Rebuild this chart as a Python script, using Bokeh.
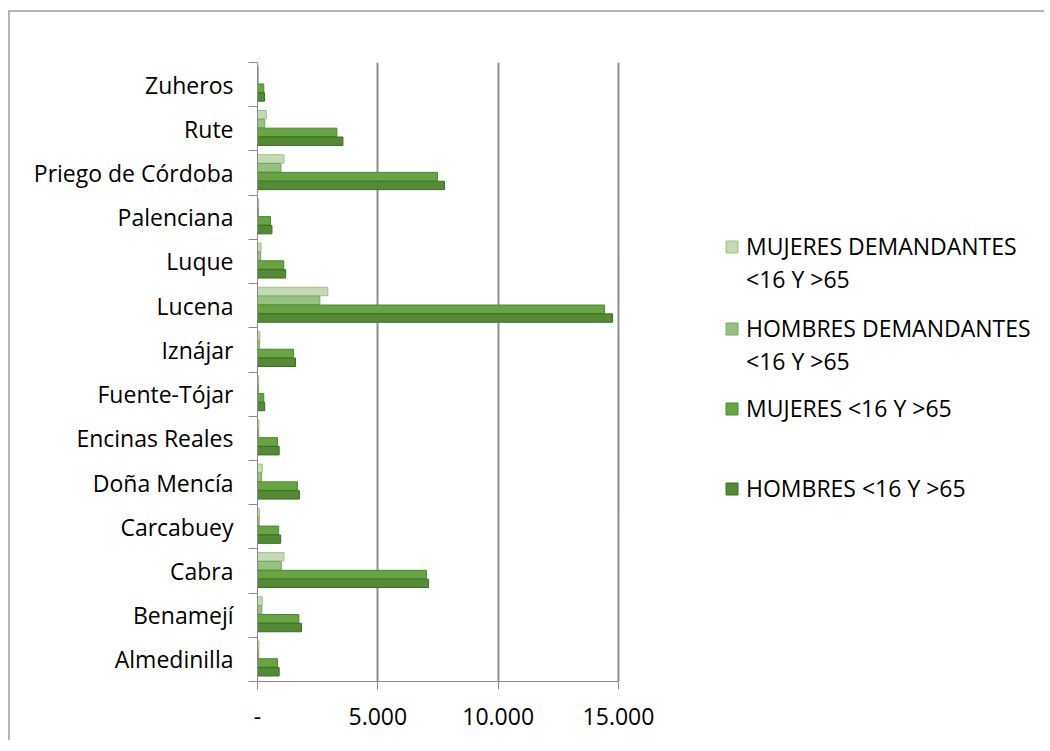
from bokeh.plotting import figure
from bokeh.models import ColumnDataSource, Range1d, FixedTicker, Legend, LegendItem
from bokeh.transform import dodge
from bokeh.embed import file_html
from bokeh.resources import INLINE

# ---- data (bottom to top) ----
categories = ["Almedinilla", "Benamejí", "Cabra", "Carcabuey", "Doña Mencía",
              "Encinas Reales", "Fuente-Tójar", "Iznájar", "Lucena", "Luque",
              "Palenciana", "Priego de Córdoba", "Rute", "Zuheros"]
mujeres_demandantes = [60, 200, 1100, 80, 200, 60, 50, 100, 2920, 150, 50, 1100, 370, 40]
hombres_demandantes = [50, 180, 990, 70, 170, 50, 40, 90, 2590, 130, 40, 975, 300, 30]
mujeres = [830, 1720, 7020, 880, 1660, 830, 260, 1500, 14420, 1090, 540, 7480, 3300, 260]
hombres = [900, 1830, 7110, 960, 1740, 900, 300, 1580, 14750, 1170, 600, 7770, 3550, 290]

# legend texts (each entry: lines of the label)
series_labels = [["MUJERES DEMANDANTES", "<16 Y >65"],
                 ["HOMBRES DEMANDANTES", "<16 Y >65"],
                 ["MUJERES <16 Y >65"],
                 ["HOMBRES <16 Y >65"]]
xtick_values = [0, 5000, 10000, 15000]
xtick_labels = ["-", "5.000", "10.000", "15.000"]

colors = ["#c3dab4", "#99c083", "#68a443", "#548a36"]
edges = ["#9fbf8c", "#78a660", "#4a8a2c", "#3a6e22"]

# ---- layout geometry (pixels) ----
W, H = 1036, 730
BL, BT, BR, BB = 247, 50, 0, 61
AXIS_PX = 361          # pixel length of the 0..15000 value axis
frame_w = W - BL - BR
x_end = xtick_values[-1] * frame_w / AXIS_PX
legend_pos = [(467, 386), (467, 304), (467, 257), (467, 177)]

ypos = [i + 0.5 for i in range(len(categories))]
source = ColumnDataSource(dict(y=ypos, md=mujeres_demandantes, hd=hombres_demandantes,
                               m=mujeres, h=hombres))

FONT = "Open Sans"

p = figure(width=W, height=H, output_backend="svg", toolbar_location=None,
           x_range=Range1d(0, x_end), y_range=Range1d(0, len(categories)),
           min_border_left=BL, min_border_top=BT, min_border_right=BR, min_border_bottom=BB)
p.styles = {"margin-left": "8px", "margin-top": "10px",
            "border-top": "2px solid #b4b4b4", "border-left": "2px solid #b4b4b4"}
p.outline_line_color = None
p.background_fill_color = "white"
p.border_fill_color = "white"

offsets = [0.32, 0.12, -0.08, -0.28]
fields = ["md", "hd", "m", "h"]
renderers = []
for f, off, c, e in zip(fields, offsets, colors, edges):
    r = p.hbar(y=dodge("y", off), right=f, left=0, height=0.19, source=source,
               fill_color=c, line_color=e, line_width=1)
    renderers.append(r)

# invisible renderer used for the continuation lines of the legend
blank = p.hbar(y=[], right=[], left=0, height=0.19, fill_alpha=0, line_alpha=0)

# x axis
p.xaxis.bounds = (xtick_values[0], xtick_values[-1])
p.xaxis.ticker = FixedTicker(ticks=xtick_values)
p.xaxis.major_label_overrides = {v: l for v, l in zip(xtick_values, xtick_labels)}
p.xaxis.major_label_text_font = FONT
p.xaxis.major_label_text_font_size = "23px"
p.xaxis.major_label_text_color = "black"
p.xaxis.major_tick_out = 8
p.xaxis.major_tick_in = 0
p.xaxis.minor_tick_line_color = None
p.xaxis.axis_line_color = "#8a8a8a"
p.xaxis.major_tick_line_color = "#8a8a8a"
p.xaxis.major_label_standoff = 18

# y axis
p.yaxis.ticker = FixedTicker(ticks=ypos, minor_ticks=list(range(len(categories) + 1)))
p.yaxis.major_label_overrides = {y: c for y, c in zip(ypos, categories)}
p.yaxis.major_label_text_font = FONT
p.yaxis.major_label_text_font_size = "23px"
p.yaxis.major_label_text_color = "black"
p.yaxis.major_tick_line_color = None
p.yaxis.minor_tick_out = 9
p.yaxis.minor_tick_in = 0
p.yaxis.minor_tick_line_color = "#8a8a8a"
p.yaxis.axis_line_color = "#8a8a8a"
p.yaxis.major_label_standoff = 15

# grid
p.xgrid.ticker = FixedTicker(ticks=xtick_values)
p.xgrid.grid_line_color = "#8c8c8c"
p.xgrid.grid_line_width = 2
p.ygrid.grid_line_color = None

for lines, r, loc in zip(series_labels, renderers, legend_pos):
    items = [LegendItem(label=lines[0], renderers=[r])]
    for extra in lines[1:]:
        items.append(LegendItem(label=extra, renderers=[blank]))
    lg = Legend(items=items, location=loc, orientation="vertical")
    lg.label_text_font = FONT
    lg.label_text_font_size = "23px"
    lg.label_text_color = "black"
    lg.glyph_width = 15
    lg.glyph_height = 15
    lg.label_standoff = 7
    lg.spacing = 1
    lg.padding = 0
    lg.margin = 0
    lg.border_line_color = None
    lg.background_fill_alpha = 0
    p.add_layout(lg, "center")

open("out.html", "w").write(file_html(p, INLINE))
